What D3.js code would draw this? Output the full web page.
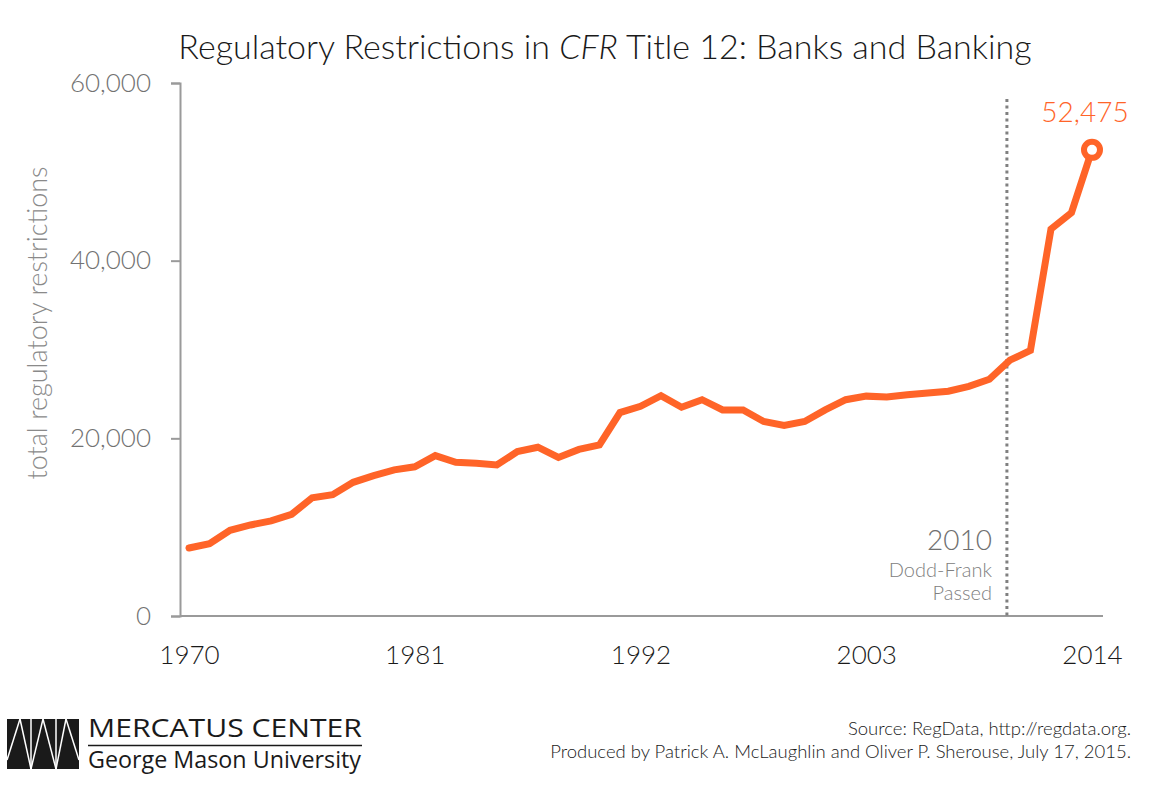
<!DOCTYPE html>
<html>
<head>
<meta charset="utf-8">
<script src="https://cdn.jsdelivr.net/npm/d3@7"></script>
<style>
  body { margin: 0; background: #fff; }
  svg { display: block; font-family: Lato, "Open Sans", sans-serif; }
</style>
</head>
<body>
<script>
// years and total restrictions
var years = d3.range(1970, 2015);
var restrictions = [
  7650, 8150, 9650, 10250, 10700, 11450, 13300, 13650, 15050, 15800,
  16450, 16800, 18050, 17300, 17200, 17000, 18500, 19000, 17850, 18750,
  19250, 22900, 23600, 24800, 23500, 24350, 23200, 23200, 21900, 21450,
  21900, 23200, 24350, 24750, 24650, 24900, 25100, 25300, 25850, 26650,
  28800, 29900, 43550, 45400, 52475
];
var yTicks = [0, 20000, 40000, 60000];
var xTicks = [1970, 1981, 1992, 2003, 2014];

var data = years.map(function(d, i) { return {year: d, value: restrictions[i]}; });

var width = 1170, height = 795;
var orange = '#ff6428';

var svg = d3.select('body').append('svg')
	.attr('width', width)
	.attr('height', height);

var x = d3.scaleLinear().domain([1970, 2014]).range([189, 1092]);
var y = d3.scaleLinear().domain([0, 60000]).range([616, 83]);

// title
var title = svg.append('text')
	.attr('x', 605)
	.attr('y', 59)
	.attr('text-anchor', 'middle')
	.attr('font-size', 34)
	.attr('font-weight', 300)
	.attr('fill', '#1a1a1a');
title.append('tspan').text('Regulatory Restrictions in ');
title.append('tspan').attr('font-style', 'italic').text('CFR');
title.append('tspan').text(' Title 12: Banks and Banking');

// y axis
var yAxis = svg.append('g')
	.attr('transform', 'translate(180,0)')
	.call(d3.axisLeft(y).tickValues(yTicks).tickSize(9).tickPadding(20)
		.tickFormat(d3.format(',')));
yAxis.select('.domain').attr('stroke', '#9a9a9a').attr('stroke-width', 2);
yAxis.selectAll('.tick line').attr('stroke', '#9a9a9a').attr('stroke-width', 2);
yAxis.selectAll('.tick text')
	.attr('font-size', 26)
	.attr('font-weight', 300)
	.attr('font-family', 'Lato, sans-serif')
	.attr('fill', '#727272');

// x axis (line only, labels under)
var xAxis = svg.append('g')
	.attr('transform', 'translate(0,616)')
	.call(d3.axisBottom(x).tickValues(xTicks).tickSize(0).tickPadding(30)
		.tickFormat(d3.format('d')));
xAxis.select('.domain')
	.attr('d', 'M180,0H1103')
	.attr('stroke', '#9a9a9a').attr('stroke-width', 2);
xAxis.selectAll('.tick text')
	.attr('font-size', 26)
	.attr('font-weight', 300)
	.attr('font-family', 'Lato, sans-serif')
	.attr('fill', '#1a1a1a');

// y axis title
svg.append('text')
	.attr('transform', 'translate(47,323) rotate(-90)')
	.attr('text-anchor', 'middle')
	.attr('font-size', 27)
	.attr('font-weight', 300)
	.attr('fill', '#8a8a8a')
	.text('total regulatory restrictions');

// Dodd-Frank marker
var xDF = x(2010) - 3;
svg.append('line')
	.attr('x1', xDF).attr('x2', xDF)
	.attr('y1', 99).attr('y2', 616)
	.attr('stroke', '#808080')
	.attr('stroke-width', 3)
	.attr('stroke-dasharray', '3,3.5');

svg.append('text')
	.attr('x', xDF - 15).attr('y', 550)
	.attr('text-anchor', 'end')
	.attr('font-size', 28).attr('font-weight', 300)
	.attr('fill', '#707070')
	.text('2010');
svg.append('text')
	.attr('x', xDF - 15).attr('y', 577)
	.attr('text-anchor', 'end')
	.attr('font-size', 20).attr('font-weight', 300)
	.attr('fill', '#808080')
	.text('Dodd-Frank');
svg.append('text')
	.attr('x', xDF - 15).attr('y', 600)
	.attr('text-anchor', 'end')
	.attr('font-size', 20).attr('font-weight', 300)
	.attr('fill', '#808080')
	.text('Passed');

// the line
var line = d3.line()
	.x(function(d) { return x(d.year); })
	.y(function(d) { return y(d.value); });

svg.append('path')
	.datum(data)
	.attr('d', line)
	.attr('fill', 'none')
	.attr('stroke', orange)
	.attr('stroke-width', 7)
	.attr('stroke-linejoin', 'miter')
	.attr('stroke-linecap', 'round');

// last point
var last = data[data.length - 1];
svg.append('circle')
	.attr('cx', x(last.year))
	.attr('cy', y(last.value))
	.attr('r', 8)
	.attr('fill', '#fff')
	.attr('stroke', orange)
	.attr('stroke-width', 6);

svg.append('text')
	.attr('x', x(last.year) - 7)
	.attr('y', 122)
	.attr('text-anchor', 'middle')
	.attr('font-size', 28).attr('font-weight', 300)
	.attr('fill', orange)
	.text(d3.format(',')(last.value));

// source
svg.append('text')
	.attr('x', 1131).attr('y', 735)
	.attr('text-anchor', 'end')
	.attr('font-size', 18.5).attr('font-weight', 300)
	.attr('fill', '#1a1a1a')
	.text('Source: RegData, http://regdata.org.');
svg.append('text')
	.attr('x', 1131).attr('y', 758)
	.attr('text-anchor', 'end')
	.attr('font-size', 18.5).attr('font-weight', 300)
	.attr('fill', '#1a1a1a')
	.text('Produced by Patrick A. McLaughlin and Oliver P. Sherouse, July 17, 2015.');

// logo
var logo = svg.append('g');
logo.append('rect')
	.attr('x', 7).attr('y', 719)
	.attr('width', 72).attr('height', 50)
	.attr('fill', '#1a1a1a');
var logoLines = [
	[7, 760, 20, 719], [20, 719, 31, 769],
	[31, 719, 31, 769],
	[31, 769, 43, 719], [43, 719, 56, 769],
	[56, 719, 56, 769],
	[56, 769, 66, 719], [66, 719, 79, 760]
];
logo.selectAll('line.l').data(logoLines).enter().append('line')
	.attr('x1', function(d) { return d[0]; })
	.attr('y1', function(d) { return d[1]; })
	.attr('x2', function(d) { return d[2]; })
	.attr('y2', function(d) { return d[3]; })
	.attr('stroke', '#fff')
	.attr('stroke-width', 1.5);
logo.append('text')
	.attr('x', 88).attr('y', 737)
	.attr('font-family', '"Open Sans", sans-serif')
	.attr('font-size', 25)
	.attr('textLength', 274)
	.attr('lengthAdjust', 'spacingAndGlyphs')
	.attr('fill', '#1a1a1a')
	.text('MERCATUS CENTER');
logo.append('line')
	.attr('x1', 88).attr('x2', 362)
	.attr('y1', 745.5).attr('y2', 745.5)
	.attr('stroke', '#1a1a1a')
	.attr('stroke-width', 1.5);
logo.append('text')
	.attr('x', 88).attr('y', 768)
	.attr('font-family', '"Open Sans", sans-serif')
	.attr('font-size', 23.5)
	.attr('textLength', 273)
	.attr('lengthAdjust', 'spacingAndGlyphs')
	.attr('fill', '#1a1a1a')
	.text('George Mason University');
</script>
</body>
</html>
